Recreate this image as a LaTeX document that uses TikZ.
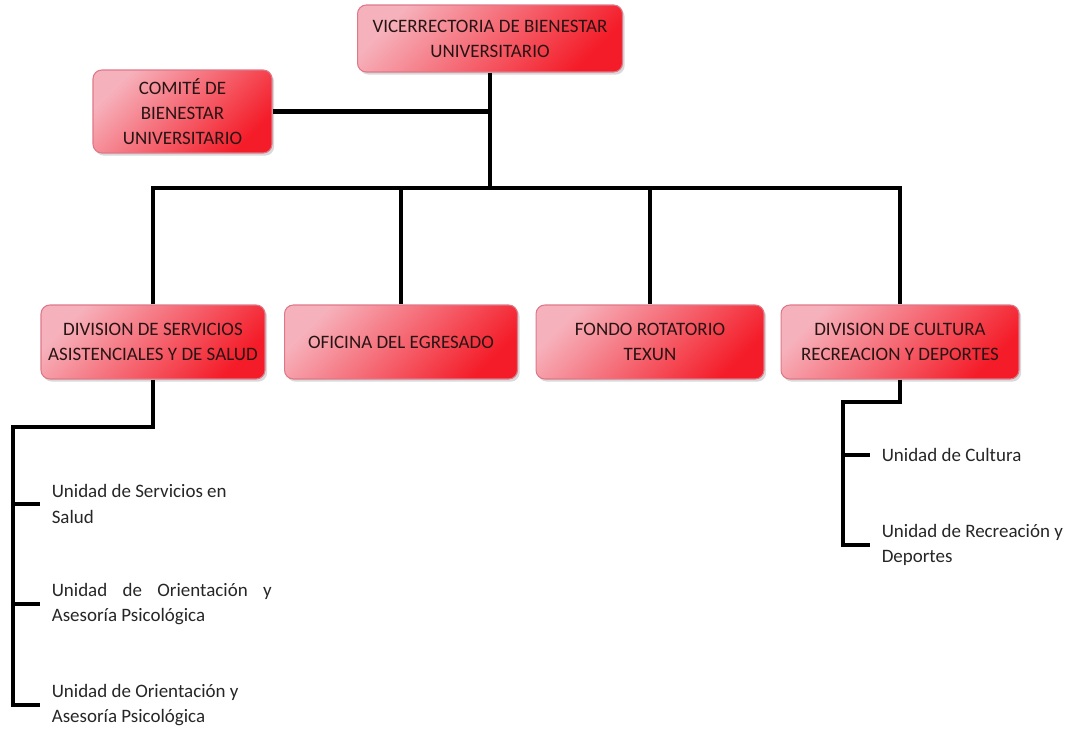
\documentclass[tikz,border=0pt]{standalone}
\usepackage{fontspec}
\setmainfont{Carlito}
\usetikzlibrary{shadows}

\definecolor{boxlight}{RGB}{246,178,188}
\definecolor{boxred}{RGB}{244,28,40}
\definecolor{boxedge}{RGB}{222,120,136}
\definecolor{boxtext}{RGB}{40,20,20}

\tikzset{
	unitbox/.style={draw=boxedge, line width=0.6pt, rounded corners=5pt,
		top color=boxlight, bottom color=boxred, shading angle=45,
		drop shadow={shadow xshift=1.2pt, shadow yshift=-1.5pt, opacity=0.3},
		align=center, text=boxtext, inner sep=2pt,
		font=\fontsize{10.8}{14.2}\selectfont},
	leaf/.style={anchor=west, align=left, inner xsep=6.5pt, text=black!85,
		font=\fontsize{10.8}{14.4}\selectfont},
	link/.style={line width=2.3pt, black}
}

\begin{document}
\begin{tikzpicture}[x=0.02cm, y=-0.02cm]
	
	\useasboundingbox (0,0) rectangle (1071,736);
	
	% Boxes
	\node[unitbox, minimum width=5.30cm, minimum height=1.34cm] (vice) at (490,38.5)
		{VICERRECTORIA DE BIENESTAR\\UNIVERSITARIO};
	\node[unitbox, minimum width=3.58cm, minimum height=1.66cm] (comite) at (182.5,111.5)
		{COMITÉ DE\\BIENESTAR\\UNIVERSITARIO};
	\node[unitbox, minimum width=4.48cm, minimum height=1.48cm] (serv) at (153,342)
		{DIVISION DE SERVICIOS\\ASISTENCIALES Y DE SALUD};
	\node[unitbox, minimum width=4.66cm, minimum height=1.48cm] (ofic) at (401,342)
		{OFICINA DEL EGRESADO};
	\node[unitbox, minimum width=4.56cm, minimum height=1.48cm] (fondo) at (650,342)
		{FONDO ROTATORIO\\TEXUN};
	\node[unitbox, minimum width=4.76cm, minimum height=1.48cm] (cult) at (900,342)
		{DIVISION DE CULTURA\\RECREACION Y DEPORTES};
	
	% Leaves
	\node[leaf] (salud) at (40,504) {Unidad de Servicios en\\Salud};
	\node[leaf] (orientA) at (40,604)
		{\makebox[4.4cm][s]{Unidad de Orientación y}\\Asesoría Psicológica};
	\node[leaf] (orientB) at (40,705) {Unidad de Orientación y\\Asesoría Psicológica};
	\node[leaf] (cultura) at (870,455) {Unidad de Cultura};
	\node[leaf] (recrea) at (870,545) {Unidad de Recreación y\\Deportes};
	
	% Coordinates
	\coordinate (bus) at (490,188);
	\coordinate (servElbow) at (13,427);
	\coordinate (cultElbow) at (843,402);
	
	% Lines
	\draw[link] (vice.south) -- (bus);
	\draw[link] (comite.east) -- (comite.east -| vice.south);
	\draw[link] (serv.north) |- (bus) -| (cult.north);
	\draw[link] (bus -| ofic.north) -- (ofic.north);
	\draw[link] (bus -| fondo.north) -- (fondo.north);
	
	\draw[link] (serv.south) |- (servElbow) |- (orientB.west);
	\draw[link] (servElbow |- salud.west) -- (salud.west);
	\draw[link] (servElbow |- orientA.west) -- (orientA.west);
	
	\draw[link] (cult.south) |- (cultElbow) |- (recrea.west);
	\draw[link] (cultElbow |- cultura.west) -- (cultura.west);
	
\end{tikzpicture}
\end{document}
